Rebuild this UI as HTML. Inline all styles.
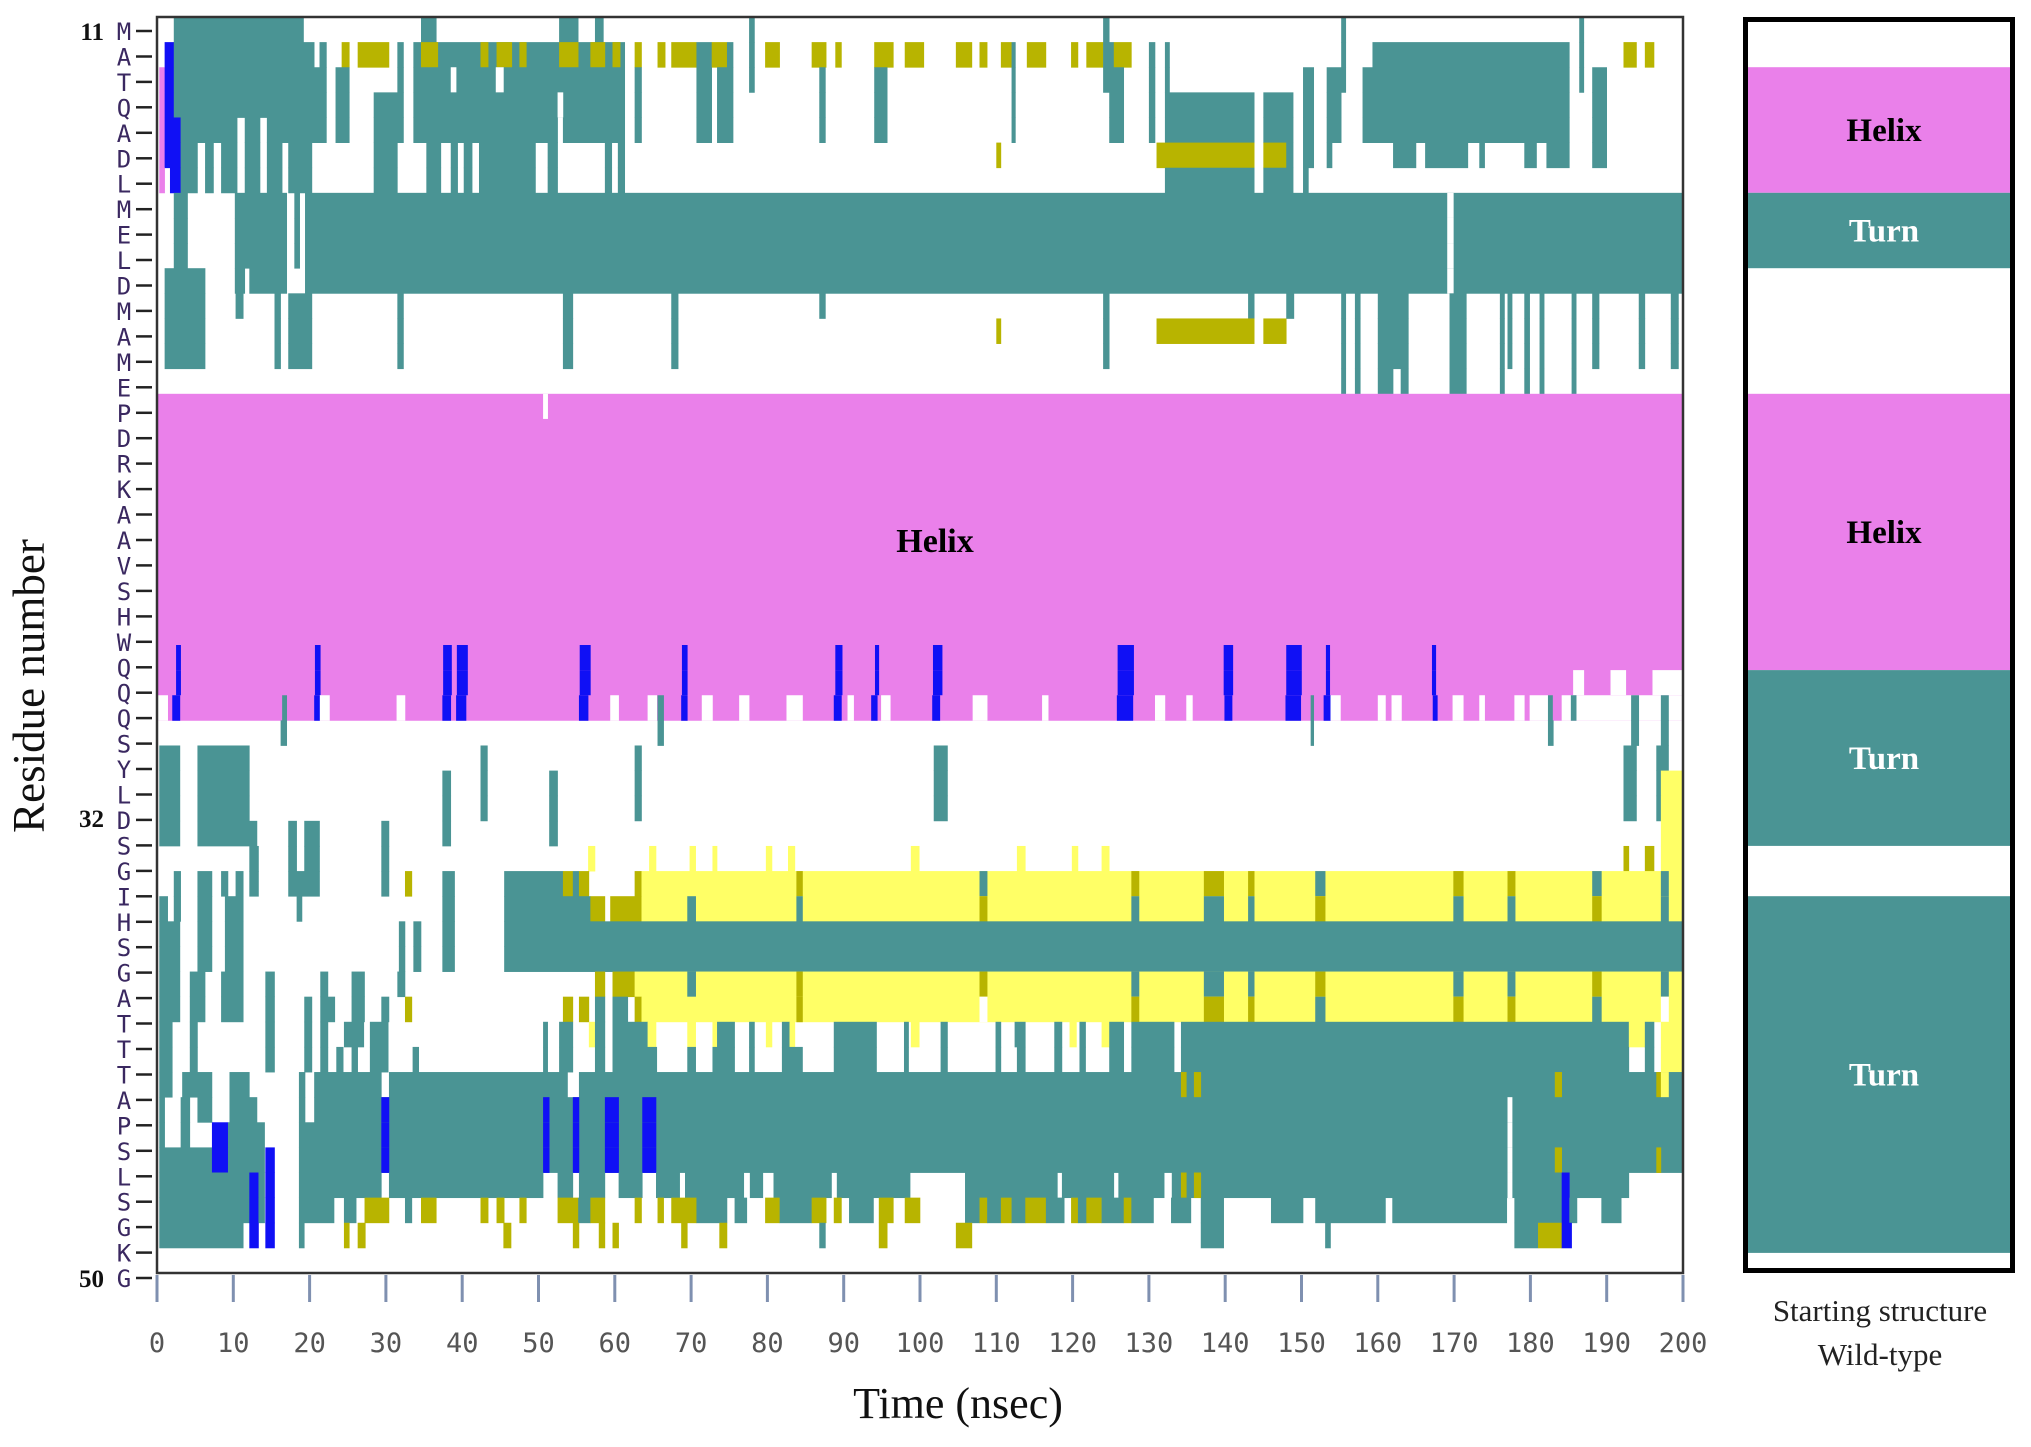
<!DOCTYPE html>
<html><head><meta charset="utf-8"><title>Secondary structure timeline</title>
<style>
html,body{margin:0;padding:0;background:#fff;}
svg{display:block;}
</style></head>
<body>
<svg id="chart" xmlns="http://www.w3.org/2000/svg" width="2031" height="1447" viewBox="0 0 2031 1447">
  <rect x="0" y="0" width="2031" height="1447" fill="#fff"/>
  <g id="cells"></g>
  <rect x="157" y="17" width="1526" height="1256" fill="none" stroke="#333" stroke-width="2.5"/>
  <g id="ylabels"></g>
  <g id="xaxis"></g>
  <text x="935" y="552" font-family="Liberation Serif, serif" font-weight="bold" font-size="34" text-anchor="middle" fill="#000">Helix</text>
  <text x="104" y="40" font-family="Liberation Serif, serif" font-weight="bold" font-size="25" text-anchor="end" fill="#111">11</text>
  <text x="104" y="827" font-family="Liberation Serif, serif" font-weight="bold" font-size="25" text-anchor="end" fill="#111">32</text>
  <text x="104" y="1287" font-family="Liberation Serif, serif" font-weight="bold" font-size="25" text-anchor="end" fill="#111">50</text>
  <text transform="translate(44,686) rotate(-90)" font-family="Liberation Serif, serif" font-size="45" text-anchor="middle" fill="#111">Residue number</text>
  <text x="958" y="1418" font-family="Liberation Serif, serif" font-size="44" text-anchor="middle" fill="#111">Time (nsec)</text>
  <g id="panel"></g>
  <rect x="1745.5" y="19.5" width="267" height="1251" fill="none" stroke="#000" stroke-width="5"/>
  <text x="1880" y="1321" font-family="Liberation Serif, serif" font-size="31" text-anchor="middle" fill="#222">Starting structure</text>
  <text x="1880" y="1365" font-family="Liberation Serif, serif" font-size="31" text-anchor="middle" fill="#222">Wild-type</text>
</svg>
<script>
const residues = "MATQADLMELDMAMEPDRKAAVSHWQQQSYLDSGIHSGATTTAPSLSGKG".split("");
const timeTicks = [0,10,20,30,40,50,60,70,80,90,100,110,120,130,140,150,160,170,180,190,200];
const ssColors = {T:"#4a9494",H:"#ea80ea",B:"#1010f5",G:"#b8b400",Y:"#ffff66",W:"#ffffff"};
const lines11 = "T155.2-155.8 T157-157.7 T160-164 T169.4-171.6 T176-176.6 T177-177.6 T179.2-179.9 T181.2-181.8 T185.4-186 T188.1-189 T194.2-195 T198.4-199.4";
const helixBlue = "B2.5-3.1 B20.7-21.4 B37.5-38.6 B39.3-40.7 B55.4-56.8 B68.8-69.5 B88.9-89.8 B94.1-94.6 B101.7-102.9 B125.9-128 B139.8-141 B148-150 B153.2-153.7 B167.1-167.6";
const bottomBlue = "B29.4-30.4 B50.6-51.4 B54.5-55.3 B58.7-60.5 B63.6-65.4";
const rowSegments = [
"T2.2-19.2 T34.6-36.6 T52.7-55.2 T57.4-58.5 T77.6-78.3 T124-124.8 T155.2-155.8 T186.4-187",
"B1-2.2 T2.2-20.6 T21.3-22.2 G24.2-25.2 G26.3-30.4 T31.5-32.3 T33.6-61.3 G34.6-36.8 G42.4-43.4 G44.5-46.5 G47.5-48.4 G52.7-55.2 G56.8-58.7 G59.7-60.7 G62.6-63.5 G65.6-66.6 G67.4-70.7 T70.7-72.7 G72.7-74.7 T74.7-75.5 T77.6-78.3 G79.7-81.6 G85.8-87.7 G88.9-89.7 G94-96.5 G98-100.5 G104.7-106.8 G107.8-108.8 G110.6-112 T112-112.5 G114-116.5 G119.8-120.7 G121.8-124 T124-125.4 G125.4-127.7 T130-130.8 T132.1-132.7 T155.2-155.8 T159.3-185.1 T186.4-187 G192.2-193.9 G195-196.2",
"H0.3-1 B1-2.2 T2.2-22.2 T23.4-25.2 T31.5-32.3 T33.6-61.3 W38.5-39.2 W44.4-45.4 T62.6-63.5 T70.7-72.7 T73.4-75.5 T77.6-78.3 T86.8-87.6 T94-95.7 T112-112.5 T124-126.7 T130-130.8 T132.1-132.7 T150.2-151.6 T153.3-155.8 T158-185.1 T186.4-187 T188.1-190",
"H0.3-1 B1-2.2 T2.2-22.2 T23.4-25.2 T28.4-32.3 T33.6-61.3 W52.5-53.2 T62.6-63.5 T70.7-72.7 T73.4-75.5 T86.8-87.6 T94-95.7 T112-112.5 T124.8-126.7 T130-130.8 T132.1-143.8 T145-148.9 T150.2-151.6 T153.3-155.2 T158-185.1 T188.1-190",
"H0.3-1 B1-3.1 T3.1-10.5 T11.5-13.5 T14.4-22.2 T23.4-25.2 T28.4-32.3 T33.6-52.5 T53.2-61.3 T62.6-63.5 T70.7-72.7 T73.4-75.5 T86.8-87.6 T94-95.7 T112-112.5 T124.8-126.7 T130-130.8 T132.1-143.8 T145-148.9 T150.2-151.6 T153.3-155.2 T158-185.1 T188.1-190",
"H0.3-1 B1-3.1 T3.1-5.3 T6.3-7.4 T8.4-10.5 T11.5-13.5 T14.4-16.4 T17.2-20.3 T28.4-31.5 T35.3-37.2 T38.5-39.4 T40.2-41.3 T42.2-49.6 T51.2-52.5 T58.7-59.6 T60.4-61.3 G110-110.6 G131-143.8 G145-148 T148-148.9 T150.2-151.6 T153.3-154 T162-165 T166.2-171.8 T173.3-174 T179.2-180.8 T182.1-185.1 T188.1-190",
"H0.3-1 B1.7-3.1 T3.1-5.3 T6.3-7.4 T8.4-10.5 T11.5-13.5 T14.4-16.4 T17.2-20.3 T28.4-31.5 T35.3-37.2 T38.5-39.4 T40.2-41.3 T42.2-49.6 T51.2-52.5 T58.7-59.6 T60.4-61.3 T132.1-143.8 T145-148.9 T150.2-150.9",
"T2.2-4 T10.2-17 T18-18.7 T19.4-200 W169.1-169.9",
"T2.2-4 T10.2-17 T18-18.7 T19.4-200 W169.1-169.9",
"T2.2-4 T10.2-17 T18-18.7 T19.4-200 W169.1-169.9",
"T1-6.3 T10.2-11.5 T12.1-17 T19.4-200 W169.1-169.9",
"T1-6.3 T10.3-11.3 T15.4-16.2 T17.2-20.3 T31.5-32.3 T53.2-54.5 T67.4-68.3 T86.8-87.6 T124-124.8 T143-143.8 T148-149 " + lines11,
"T1-6.3 T15.4-16.2 T17.2-20.3 T31.5-32.3 T53.2-54.5 T67.4-68.3 G110-110.6 T124-124.8 G131-143.8 G145-148 " + lines11,
"T1-6.3 T15.4-16.2 T17.2-20.3 T31.5-32.3 T53.2-54.5 T67.4-68.3 T124-124.8 " + lines11,
"T155.2-155.8 T157-157.7 T160-162 T163-164 T169.4-171.6 T176-176.6 T179.2-179.9 T181.2-181.8 T185.4-186",
"H0-200 W50.6-51.2",
"H0-200","H0-200","H0-200","H0-200","H0-200","H0-200","H0-200","H0-200","H0-200",
"H0-200 " + helixBlue,
"H0-200 " + helixBlue + " W185.6-187 W190.5-192.5 W196-200",
"H0-200 W0-1.4 W21.3-22.6 W31.4-32.5 W59.4-60.5 W64.3-65.5 W71.4-72.8 W76.3-77.6 W82.5-84.6 W90.5-91.3 W94.9-96.1 T16.4-17 T65.6-66.4 B2-3 B20.6-21.3 B37.4-38.5 B39.2-40.5 B55.3-56.5 B68.7-69.5 B88.7-89.7 B93.6-94.4 B101.6-102.6 W106.9-108.8 W116-116.8 B125.8-127.9 W130.8-132.1 W134.9-135.7 B139.9-140.9 B147.9-149.9 T151.2-151.6 B152.9-153.8 W153.8-155.1 W160-161 W161.8-163.1 B167.2-167.8 W169.8-171.2 W173.3-174 W177.9-179.2 W179.9-182.3 T182.3-182.9 W184.1-200 T185.3-186 T193.2-194.2 T197.1-198.1",
"T16.2-17 T65.6-66.4 T151.2-151.6 T182.3-183 T193.2-194.2 T197.1-198.1",
"T0.3-3 T5.3-12.1 T42.4-43.3 T62.6-63.5 T101.8-103.6 T192.2-193.9 T196.5-198.1",
"T0.3-3 T5.3-12.1 T37.4-38.5 T42.4-43.3 T51.4-52.5 T62.6-63.5 T101.8-103.6 T192.2-193.9 T196.5-197.1 Y197.1-200",
"T0.3-3 T5.3-12.1 T37.4-38.5 T42.4-43.3 T51.4-52.5 T62.6-63.5 T101.8-103.6 T192.2-193.9 T196.5-197.1 Y197.1-200",
"T0.3-3 T5.3-13.1 T17.2-18.3 T19.3-21.3 T29.4-30.4 T37.4-38.5 T51.4-52.5 Y197.1-200",
"T12.1-13.3 T17.2-18.3 T19.3-21.3 T29.4-30.4 Y56.5-57.4 Y64.5-65.4 Y69.8-70.6 Y72.8-73.4 Y79.8-80.6 Y82.7-83.6 Y98.8-99.9 Y112.7-113.8 Y119.9-120.7 Y123.8-124.8 G192.2-192.9 G195-196.2 Y197.1-200",
"T2.2-3.1 T5.3-7.2 T8.4-9.3 T10.3-11.3 T12.1-13.3 T17.2-21.3 T29.4-30.4 G32.5-33.4 T37.4-39 T45.5-53.2 G53.2-54.5 T54.5-55.3 G55.3-56.6 G62.6-63.5 Y63.5-200 G83.8-84.6 T107.8-108.8 G127.7-128.7 G137.2-139.8 G143-143.8 T151.8-153.1 G169.9-171.2 G177-178 T188.1-189.3 T197.1-198.1",
"T0.3-1.4 T2.2-3.1 T5.3-7.2 T8.9-11.3 T18.3-19 T37.4-39 T45.5-56.8 G56.8-58.7 G59.4-63.5 Y63.5-200 T69.5-70.6 T83.8-84.6 G107.8-108.8 T127.7-128.7 T137.2-139.8 T143-143.8 G151.8-153.1 T169.9-171.2 T177-178 G188.1-189.3 T197.1-198.1",
"T0.3-3 T5.3-7.2 T8.9-11.3 T31.7-32.5 T33.6-34.6 T37.4-39 T45.5-200",
"T0.3-3 T5.3-7.2 T8.9-11.3 T31.7-32.5 T33.6-34.6 T37.4-39 T45.5-200",
"T0.3-3 T4.3-6.3 T8.4-11.3 T14.2-15.4 T21.4-22.4 T25.5-27.2 T31.5-32.5 G57.4-58.7 G59.7-62.6 Y62.6-200 T69.5-70.6 G83.8-84.6 G107.8-108.8 T127.7-128.7 T137.2-139.8 T143-143.8 G151.8-153.1 T169.9-171.2 T177-178 G188.1-189.3 T197.1-198.1",
"T0.3-3 T4.3-6.3 T8.4-11.3 T14.2-15.4 T19.3-20.3 T21.4-23.3 T25.5-27.2 T29.4-30.4 G32.5-33.4 G53.2-54.5 G55.3-56.6 T57.4-58.7 T59.7-61.7 G62.6-63.5 Y63.5-200 G83.8-84.6 W107.8-108.8 G127.7-128.7 G137.2-139.8 G143-143.8 T151.8-153.1 G169.9-171.2 G177-178 T188.1-189.3 W197.1-198.1",
"T0.3-2 T4.3-5.3 T14.2-15.4 T19.3-20.3 T21.4-22.4 T24.5-27.1 T27.9-30.3 T50.6-51.2 T52.7-54.5 Y56.6-57.4 T57.4-58.7 T59.7-64.3 Y64.3-65.4 Y69.5-70.6 Y72.8-73.4 T73.4-75.7 T77.6-78.3 Y79.8-80.6 T81.9-82.9 Y82.9-83.6 T88.7-94.3 T97.9-98.5 Y98.8-99.9 T102.7-103.6 T109.9-110.6 T112.4-113.8 T117.6-118.6 Y119.6-120.5 T120.9-121.7 Y123.8-124.8 T124.8-126.7 T127.7-133.3 T134.2-192.9 Y192.9-195 T195-196.2 Y197.1-200",
"T0.3-2 T4.3-5.3 T14.2-15.4 T19.3-20.3 T21.4-22.4 T23.5-24.4 T25.5-26.3 T27.9-30.3 T33.5-34.3 T50.6-51.2 T52.7-54.5 T57.4-58.7 T59.7-65.5 T69.5-70.6 T72.8-75.7 T77.6-78.3 T81.9-84.6 T88.7-94.3 T97.9-98.5 T102.7-103.6 T109.9-110.6 T112.7-113.8 T117.6-118.6 T120.9-121.7 T124.8-126.7 T127.7-133.3 T134.2-192.9 T195-196.2 Y197.1-200",
"T0.3-2 T3.3-7.2 T9.5-12.1 T18.6-19.4 T20.6-29.4 T30.4-53.8 T55.3-200 G134.2-134.9 G135.9-136.8 G183.2-184.1 G196.5-197.1 Y197.1-198.1",
"T0.3-1 T3.1-4.3 T5.3-7.2 T9.5-13.1 T18.6-19.4 T20.6-200 " + bottomBlue + " W177-177.6",
"T0.3-1 T3.1-4.3 B7.2-9.3 T9.3-14.1 T18.6-200 " + bottomBlue + " W177-177.6",
"T0.3-7.2 B7.2-9.3 T9.3-14.1 B14.2-15.4 T18.6-200 " + bottomBlue + " W177-177.6 G183.2-184.1 G196.5-197.1",
"T0.3-12.1 B12.1-13.3 T13.3-14.1 B14.2-15.4 T18.6-29.4 T30.4-50.6 T52.5-54.5 T55.3-58.7 T60.5-63.6 T65.4-68.5 T69.2-76.9 T77.7-79.4 T80.8-88.4 T89.1-98.7 T105.9-118 T118.6-125.4 T126-132 T133-192.9 W177-177.6 G134.2-134.9 G135.9-136.8 B184.1-185.1",
"T0.3-12.1 B12.1-13.3 T13.3-14.1 B14.2-15.4 T18.6-23.2 T24.5-26.1 G27.2-30.4 T32.5-33.4 G34.6-36.6 G42.4-43.4 G44.5-45.5 G47.5-48.4 G52.5-55.2 T55.2-56.8 G56.8-58.7 G62.6-63.5 G65.6-66.4 G67.4-70.7 T70.7-74.7 T75.7-77.3 G79.7-81.6 T81.6-85.8 G85.8-87.7 G88.7-89.7 T90.7-93.9 G94.6-96.5 G98-100 T105.9-107.8 G107.8-108.8 T108.8-110.6 G110.6-112 T112-113.8 G113.8-116.5 T116.5-118.9 G119.8-120.7 T120.7-121.8 G121.8-123.8 T123.8-126.7 G126.7-127.7 T127.7-130.6 T132.9-135.5 T136.8-139.8 T146-150.2 T151.8-161 T161.9-176.9 T177.9-184.1 B184.1-185.1 T185.1-186.1 T189.3-191.9",
"T0.3-11.3 B12.1-13.3 B14.2-15.4 T18.6-19.3 G24.5-25.2 G26.3-27.3 G45.4-46.4 G54.5-55.3 G57.9-58.7 G59.7-60.5 G68.7-69.5 G73.7-74.7 T86.8-87.6 G94.6-95.7 G104.7-106.8 T136.8-139.8 T153.1-153.8 T177.9-181 G181-184.1 B184.1-185.4",
""
];
const panelSegments = [["H",2,7,"Helix"],["T",7,10,"Turn"],["H",15,26,"Helix"],["T",26,33,"Turn"],["T",35,49.2,"Turn"]];

const NS = "http://www.w3.org/2000/svg";
const X0 = 157, X1 = 1683, Y0 = 17, ROWH = 25.12;
function xScale(t){ return X0 + (t/200)*(X1-X0); }
function yRow(r){ return Y0 + r*ROWH; }
function mk(tag, attrs){ const e=document.createElementNS(NS,tag); for(const k in attrs) e.setAttribute(k,attrs[k]); return e; }

const cells = document.getElementById("cells");
rowSegments.forEach((str, r) => {
  const re = /([THBGYW])([\d.]+)-([\d.]+)/g; let m;
  while((m = re.exec(str))){
    const a = parseFloat(m[2]), b = parseFloat(m[3]);
    const x = xScale(a), w = Math.max(1, xScale(b)-x);
    const rect = mk("rect",{x:x.toFixed(2), y:yRow(r).toFixed(2), width:(w+0.3).toFixed(2), height:(ROWH+0.4).toFixed(2), fill:ssColors[m[1]]});
    
    
    cells.appendChild(rect);
  }
});

const yl = document.getElementById("ylabels");
residues.forEach((c, i) => {
  const y = 31 + i*25.45;
  const t = mk("text",{x:124, y:(y+9).toFixed(1), "font-family":"DejaVu Sans Mono, monospace", "font-size":24, "text-anchor":"middle", fill:"#3a2860"});
  t.textContent = c;
  
  
  yl.appendChild(t);
  const d = mk("line",{x1:136, x2:152, y1:y.toFixed(1), y2:y.toFixed(1), stroke:"#222", "stroke-width":2.5});
  
  
  yl.appendChild(d);
});

const xa = document.getElementById("xaxis");
timeTicks.forEach(t => {
  const x = xScale(t);
  const l = mk("line",{x1:x, x2:x, y1:1275, y2:1302, stroke:"#7f90b0", "stroke-width":3});
  
  
  xa.appendChild(l);
  const tx = mk("text",{x:x, y:1352, "font-family":"DejaVu Sans Mono, monospace", "font-size":27, "text-anchor":"middle", fill:"#555"});
  tx.textContent = String(t);
  
  
  xa.appendChild(tx);
});

const panel = document.getElementById("panel");
panelSegments.forEach(s => {
  const y = yRow(s[1]), h = yRow(s[2]) - y;
  const r = mk("rect",{x:1748, y:y.toFixed(1), width:262, height:h.toFixed(1), fill:ssColors[s[0]]});
  
  
  panel.appendChild(r);
  const t = mk("text",{x:1884, y:(y+h/2+11).toFixed(1), "font-family":"Liberation Serif, serif", "font-weight":"bold", "font-size":33, "text-anchor":"middle", fill: s[0]==="H" ? "#000" : "#fff"});
  t.textContent = s[3];
  
  
  panel.appendChild(t);
});
</script>
</body></html>
